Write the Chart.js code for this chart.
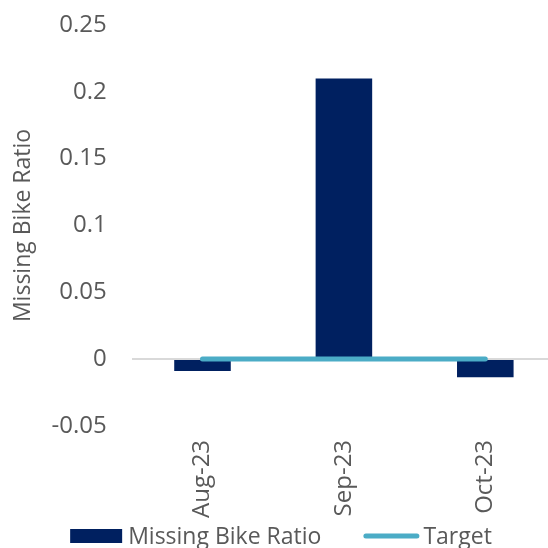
<!DOCTYPE html>
<html>
<head>
<meta charset="utf-8">
<script src="https://cdn.jsdelivr.net/npm/chart.js@4/dist/chart.umd.min.js"></script>
<style>
  html, body { margin: 0; padding: 0; background: #fff; overflow: hidden; }
  #wrap { position: absolute; left: 0; top: 0; width: 556px; height: 548px; }
</style>
</head>
<body>
<div id="wrap"><canvas id="chart"></canvas></div>
<script>
// Monthly missing-bike ratio against a zero target
const categories = ['Aug-23', 'Sep-23', 'Oct-23'];
const missingBikeRatio = [-0.009, 0.21, -0.0135];
const targetValues = [0, 0, 0];
const yTicks = [-0.05, 0, 0.05, 0.1, 0.15, 0.2, 0.25];

const textColor = '#595959';
const fontFamily = '"Open Sans", "Noto Sans", sans-serif';
const tickSize = 24;
const legendSize = 23;

// Bottom legend drawn by hand: swatch, gap, label, then the next entry
const bottomLegend = {
  id: 'bottomLegend',
  afterDraw(chart) {
    const ctx = chart.ctx;
    ctx.save();
    ctx.font = legendSize + 'px ' + fontFamily;
    ctx.textBaseline = 'middle';
    ctx.fillStyle = textColor;
    const items = chart.data.datasets.map(ds => ({
      label: ds.label,
      kind: ds.type,
      color: ds.type === 'bar' ? ds.backgroundColor : ds.borderColor,
      swatch: ds.type === 'bar' ? 52 : 56,
      gap: ds.type === 'bar' ? 6 : 4,
      width: ctx.measureText(ds.label).width
    }));
    const between = 42;
    let total = 0;
    items.forEach((it, i) => { total += it.swatch + it.gap + it.width + (i ? between : 0); });
    let x = chart.width / 2 + 3 - total / 2;
    const y = 537;
    items.forEach((it, i) => {
      if (i) x += between;
      if (it.kind === 'bar') {
        ctx.fillStyle = it.color;
        ctx.fillRect(x, y - 8, it.swatch, 14);
      } else {
        ctx.strokeStyle = it.color;
        ctx.lineWidth = 5;
        ctx.lineCap = 'round';
        ctx.beginPath();
        ctx.moveTo(x + 2.5, y - 1);
        ctx.lineTo(x + it.swatch - 2.5, y - 1);
        ctx.stroke();
      }
      x += it.swatch + it.gap;
      ctx.fillStyle = textColor;
      ctx.textAlign = 'left';
      ctx.fillText(it.label, x, y);
      x += it.width;
    });
    ctx.restore();
  }
};

new Chart(document.getElementById('chart'), {
  type: 'bar',
  data: {
    labels: categories,
    datasets: [
      {
        type: 'bar',
        label: 'Missing Bike Ratio',
        data: missingBikeRatio,
        backgroundColor: '#002060',
        borderWidth: 0,
        barPercentage: 0.4,
        categoryPercentage: 1.0,
        order: 1
      },
      {
        type: 'line',
        label: 'Target',
        data: targetValues,
        borderColor: '#4bacc6',
        backgroundColor: '#4bacc6',
        borderWidth: 5,
        borderCapStyle: 'round',
        pointRadius: 0,
        fill: false,
        order: 0
      }
    ]
  },
  plugins: [bottomLegend],
  options: {
    responsive: true,
    maintainAspectRatio: false,
    animation: false,
    layout: { padding: { top: 25, left: 10, right: 0, bottom: 16 } },
    plugins: {
      tooltip: { enabled: false },
      legend: { display: false }
    },
    scales: {
      x: {
        grid: { display: false, drawTicks: false },
        border: { display: false },
        ticks: {
          color: textColor,
          font: { family: fontFamily, size: tickSize },
          minRotation: 90,
          maxRotation: 90,
          padding: 14
        }
      },
      y: {
        min: yTicks[0],
        max: yTicks[yTicks.length - 1],
        afterBuildTicks: (axis) => { axis.ticks = yTicks.map(v => ({ value: v })); },
        grid: {
          drawTicks: true,
          tickLength: 25,
          tickColor: 'rgba(0,0,0,0)',
          lineWidth: 2,
          color: (ctx) => (ctx.tick && ctx.tick.value === 0) ? '#d9d9d9' : 'rgba(0,0,0,0)'
        },
        border: { display: false },
        ticks: {
          color: textColor,
          font: { family: fontFamily, size: tickSize },
          padding: 0,
          callback: (v) => String(Number(Number(v).toFixed(2)))
        },
        title: {
          display: true,
          text: 'Missing Bike Ratio',
          color: textColor,
          font: { family: fontFamily, size: 23 },
          padding: { top: 0, bottom: 14 }
        }
      }
    }
  }
});
</script>
</body>
</html>
